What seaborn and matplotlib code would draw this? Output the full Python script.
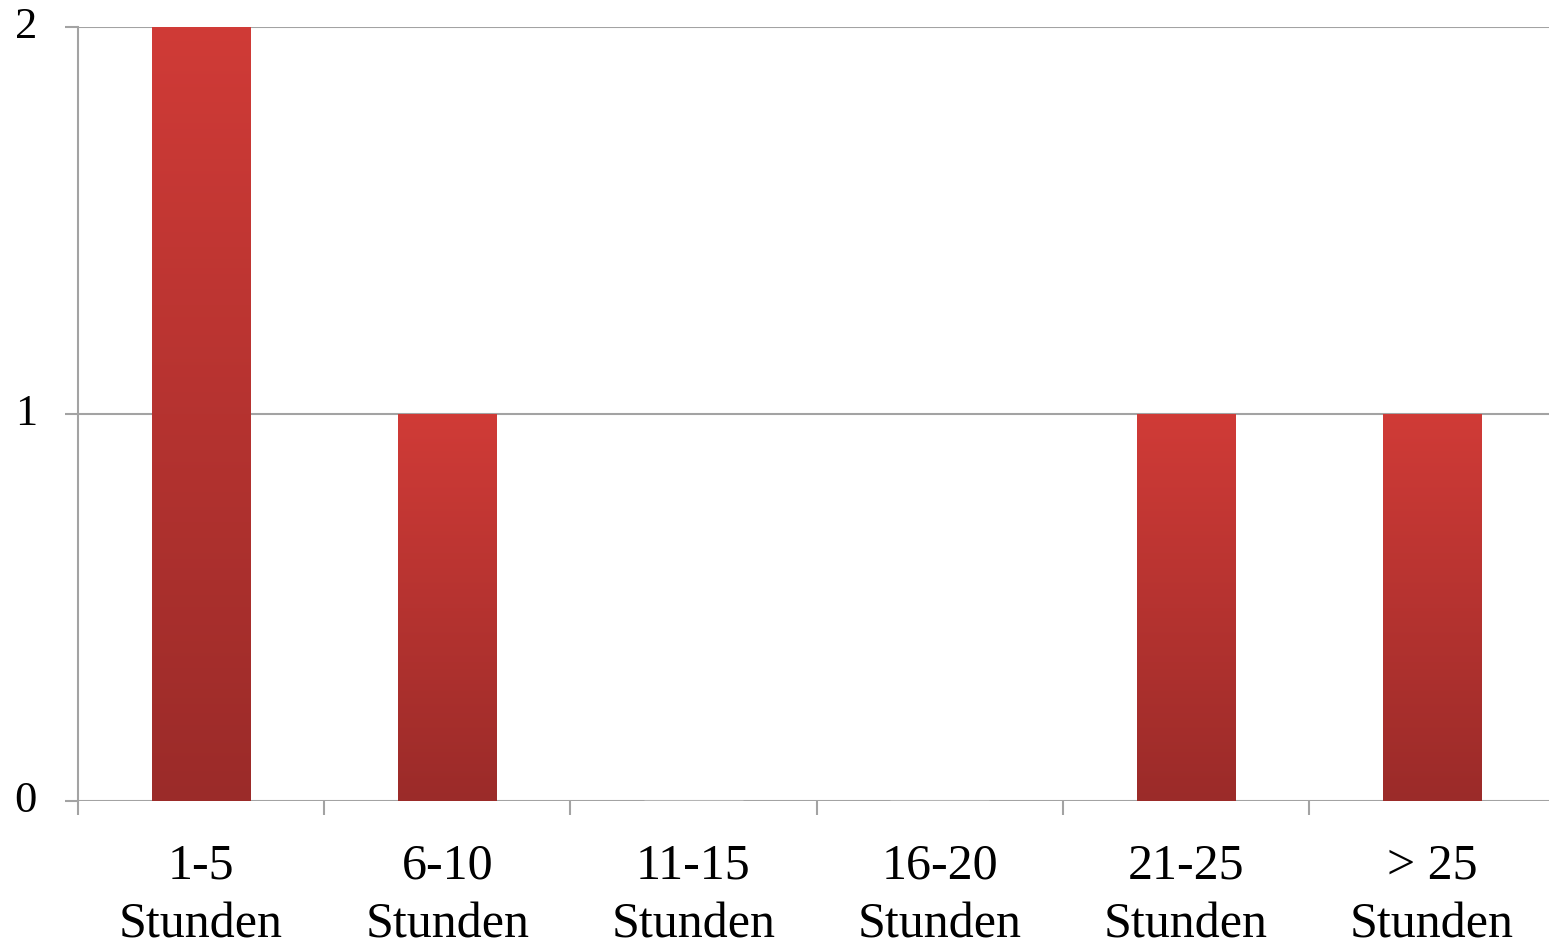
import numpy as np
import pandas as pd
import matplotlib
matplotlib.use("Agg")
import matplotlib.pyplot as plt
import seaborn as sns
from matplotlib.colors import LinearSegmentedColormap

categories = ["1-5\nStunden", "6-10\nStunden", "11-15\nStunden",
              "16-20\nStunden", "21-25\nStunden", "> 25\nStunden"]
counts = [2, 1, 0, 0, 1, 1]

df = pd.DataFrame({"kategorie": categories, "anzahl": counts})

sns.set_theme(style="white")
plt.rcParams['font.family'] = ['Liberation Serif', 'DejaVu Serif']
plt.rcParams['text.color'] = 'black'
plt.rcParams['xtick.labelcolor'] = 'black'
plt.rcParams['ytick.labelcolor'] = 'black'

fig = plt.figure(figsize=(15.49, 9.46), dpi=100)
ax = fig.add_axes([78 / 1549, 1 - 801 / 946, (1555 - 78) / 1549, (801 - 27) / 946])

sns.barplot(data=df, x="kategorie", y="anzahl", color="#c03633",
            width=0.40, ax=ax, zorder=3)

# vertical gradient on each bar (light red top -> dark red bottom)
cmap = LinearSegmentedColormap.from_list("rot", ["#9b2b29", "#d03b37"])
grad = np.linspace(0, 1, 256).reshape(-1, 1)
for p in ax.patches:
    h = p.get_height()
    if h <= 0:
        continue
    x0 = p.get_x()
    w = p.get_width()
    p.set_facecolor("none")
    p.set_edgecolor("none")
    im = ax.imshow(grad, cmap=cmap, origin="lower", aspect="auto",
                   extent=(x0, x0 + w, 0, h), zorder=3)
    im.set_clip_path(p)

ax.set_xlim(-0.5, 5.5)
ax.set_ylim(0, 2)
ax.set_yticks([0, 1, 2])
ax.set_xlabel("")
ax.set_ylabel("")

ax.yaxis.grid(True, color="#a3a3a3", linewidth=1.5, zorder=1)
ax.set_axisbelow(True)
for s in ["top", "right", "bottom"]:
    ax.spines[s].set_visible(False)
ax.spines["left"].set_color("#a3a3a3")
ax.spines["left"].set_linewidth(1.5)

ax.tick_params(axis="y", length=9.5, width=1.5, color="#a3a3a3",
               labelsize=32, pad=20, left=True)
ax.tick_params(axis="x", which="major", length=0, labelsize=36, pad=30)
ax.set_xticks(np.arange(-0.5, 5.6, 1.0), minor=True)
ax.tick_params(axis="x", which="minor", length=10, width=1.5,
               color="#a3a3a3", bottom=True)
for lbl in ax.get_xticklabels():
    lbl.set_linespacing(1.35)
for lbl in ax.get_yticklabels():
    lbl.set_verticalalignment("center")

fig.savefig("out.png", dpi=100)
